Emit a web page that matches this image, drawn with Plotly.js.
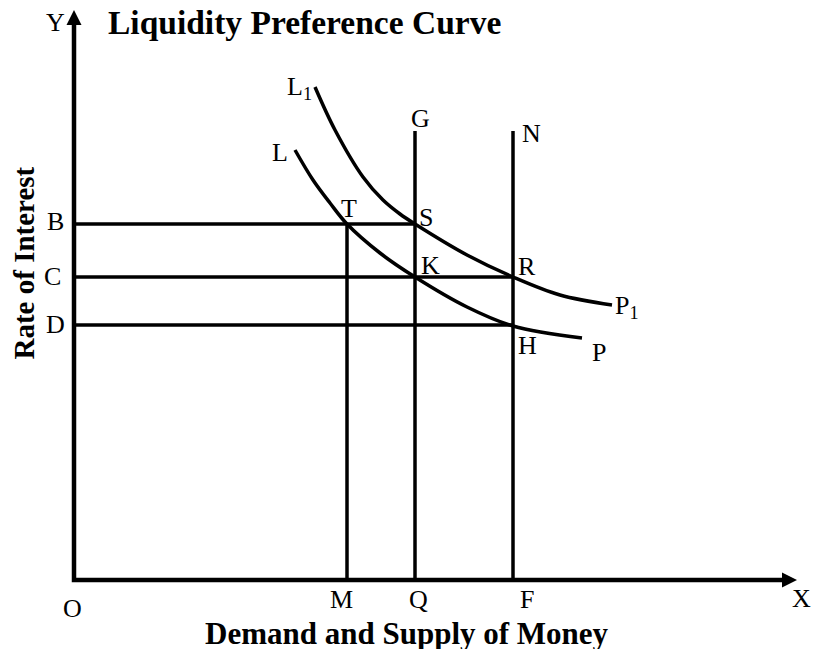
<!DOCTYPE html>
<html><head><meta charset="utf-8">
<script src="https://cdn.plot.ly/plotly-3.0.1.min.js"></script>
<style>html,body{margin:0;padding:0;background:#fff}</style>
</head><body><div id="chart" style="width:814px;height:649px"></div>
<script>
// Quantity of money (x axis) points
const qtyLabels = ['O', 'M', 'Q', 'F'];
const qtyValues = [0, 27.3, 34.1, 43.9];
// Rate of interest levels (y axis)
const rateLabels = ['B', 'C', 'D'];
const rateValues = [35.6, 30.3, 25.5];
// Top of the money-supply lines (G and N)
const supplyTop = 44.9;
// Liquidity preference curve L–P
const curveLx = [22.1, 23.9, 25.6, 27.3, 30.6, 34.1, 39.3, 43.9, 50.8];
const curveLy = [43.0, 40.0, 37.7, 35.6, 32.7, 30.3, 27.3, 25.4, 24.2];
// Shifted liquidity preference curve L1–P1
const curveL1x = [24.1, 26.1, 28.9, 30.9, 32.6, 34.1, 39.3, 43.9, 48.6, 53.8];
const curveL1y = [49.3, 45.0, 40.3, 38.0, 36.6, 35.6, 32.5, 30.3, 28.5, 27.5];
// Axis arrow tips
const axisEndX = 72.3;
const axisEndY = 57.0;

const M = qtyValues[1], Q = qtyValues[2], F = qtyValues[3];
const B = rateValues[0], C = rateValues[1], D = rateValues[2];

const black = '#000';
const serif = 'Liberation Serif, Times New Roman, serif';
const arrowSize = 15;          // px
const arrowBack = 1.0;         // axis line stops this far (data units) before the tip
function seg(x, y, w, extra) {
  return Object.assign({x: x, y: y, type: 'scatter', mode: 'lines', hoverinfo: 'skip',
          line: {color: black, width: w}, showlegend: false}, extra || {});
}
const spline = {color: black, width: 3.5, shape: 'spline', smoothing: 1};
const traces = [
  seg([0, 0, axisEndX - arrowBack], [axisEndY - arrowBack, 0, 0], 4.5),
  seg([0, Q], [B, B], 3.5),
  seg([0, F], [C, C], 3.5),
  seg([0, F], [D, D], 3.5),
  seg([M, M], [0, B], 3.5),
  seg([Q, Q], [0, supplyTop], 3.5),
  seg([F, F], [0, supplyTop], 3.5),
  seg(curveLx, curveLy, 3.5, {line: spline}),
  seg(curveL1x, curveL1y, 3.5, {line: spline}),
  {x: [axisEndX, 0], y: [0, axisEndY], type: 'scatter', mode: 'markers', hoverinfo: 'skip',
   showlegend: false, cliponaxis: false,
   marker: {symbol: ['arrow-right', 'arrow-up'], size: arrowSize, color: black, line: {width: 0}}}
];

function lab(text, x, y, xs, ys, extra) {
  return Object.assign({text: text, x: x, y: y, xref: 'x', yref: 'y', xshift: xs, yshift: ys,
    showarrow: false, xanchor: 'center', yanchor: 'middle',
    font: {family: serif, size: 26, color: black}}, extra || {});
}
const nL = curveLx.length - 1, nL1 = curveL1x.length - 1;
const annotations = [
  lab('X', axisEndX, 0, 4, -18),
  lab('Y', 0, axisEndY, -19, -12),
  lab(qtyLabels[0], qtyValues[0], 0, -2, -28),
  lab(qtyLabels[1], M, 0, -6, -19),
  lab(qtyLabels[2], Q, 0, 3, -19),
  lab(qtyLabels[3], F, 0, 14, -19),
  lab(rateLabels[0], 0, B, -19, 3),
  lab(rateLabels[1], 0, C, -22, 1),
  lab(rateLabels[2], 0, D, -19, 1),
  lab('T', M, B, 2, 16),
  lab('S', Q, B, 11, 6.5),
  lab('K', Q, C, 15, 11.5),
  lab('R', F, C, 14, 11),
  lab('H', F, D, 14, -20.5),
  lab('G', Q, supplyTop, 5, 13),
  lab('N', F, supplyTop, 18, -2),
  lab('L', curveLx[0], curveLy[0], -15, -2.5),
  lab('L<sub>1</sub>', curveL1x[0], curveL1y[0], -1, -1, {xanchor: 'right'}),
  lab('P', curveLx[nL], curveLy[nL], 8, -14, {xanchor: 'left'}),
  lab('P<sub>1</sub>', curveL1x[nL1], curveL1y[nL1], 1, -2, {xanchor: 'left'}),
  // axis titles
  {text: 'Demand and Supply of Money', xref: 'paper', yref: 'paper', x: (406.5 - 64) / 750, y: 0,
   yshift: -43, xanchor: 'center', yanchor: 'middle', showarrow: false,
   font: {family: serif, size: 31, color: black, weight: 'bold'}},
  {text: 'Rate of Interest', xref: 'paper', yref: 'paper', x: 0, y: (590 - 263.5) / 590,
   xshift: -41, textangle: -90, xanchor: 'center', yanchor: 'middle', showarrow: false,
   font: {family: serif, size: 29, color: black, weight: 'bold'}}
];

const layout = {
  width: 814, height: 649,
  margin: {l: 64, r: 0, t: 0, b: 59, pad: 0},
  paper_bgcolor: '#fff', plot_bgcolor: '#fff',
  showlegend: false,
  title: {text: 'Liquidity Preference Curve', xref: 'container', yref: 'container',
          x: 108 / 814, xanchor: 'left', y: 1 - 22 / 649, yanchor: 'middle',
          font: {family: serif, size: 33.5, color: black, weight: 'bold'}},
  xaxis: {range: [-1, 74], visible: false, fixedrange: true},
  yaxis: {range: [-1, 58], visible: false, fixedrange: true},
  annotations: annotations,
  hovermode: false
};
Plotly.newPlot('chart', traces, layout, {displayModeBar: false, staticPlot: true});
</script></body></html>
